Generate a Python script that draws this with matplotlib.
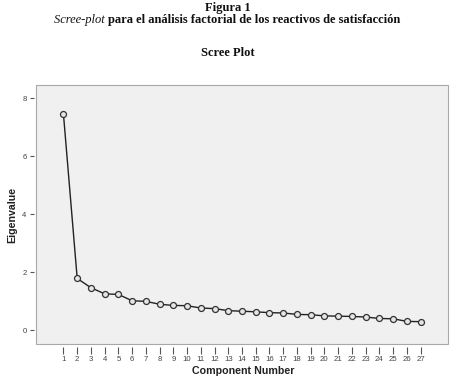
import matplotlib
matplotlib.use("Agg")
import matplotlib.pyplot as plt
from matplotlib.patches import Rectangle

components = list(range(1, 28))
eigenvalues = [7.44, 1.78, 1.46, 1.25, 1.23, 1.01, 0.99, 0.89, 0.85, 0.84,
               0.76, 0.74, 0.67, 0.65, 0.63, 0.60, 0.59, 0.54, 0.53, 0.49,
               0.48, 0.47, 0.45, 0.40, 0.39, 0.30, 0.29]
y_ticks = [0, 2, 4, 6, 8]

W, H = 457, 382
fig = plt.figure(figsize=(W / 100, H / 100), dpi=100)
fig.patch.set_facecolor("white")

ax = fig.add_axes([36 / W, 1 - 344 / H, 412 / W, (344 - 85) / H])
ax.set_facecolor("#f0f0f0")
ax.plot(components, eigenvalues, color="#222222", lw=1.0, marker="o",
        markersize=4.3, markerfacecolor="#e6e6e6", markeredgecolor="#333333",
        markeredgewidth=0.9, zorder=3)
ax.set_xlim(-1.0, 29.0)
ax.set_ylim(-0.48, 8.45)
ax.set_xticks(components)
ax.set_xticklabels([str(c) for c in components])
ax.set_yticks(y_ticks)
ax.set_yticklabels([str(v) for v in y_ticks])

for s in ["top", "right"]:
    ax.spines[s].set_visible(False)
for s in ["left", "bottom"]:
    ax.spines[s].set_position(("outward", 1.8))
    ax.spines[s].set_visible(False)
ax.add_patch(Rectangle((0, 0), 1, 1, transform=ax.transAxes, fill=False,
                       edgecolor="#a8a8a8", lw=0.8, clip_on=False, zorder=5))

ax.tick_params(axis="x", direction="out", length=5.2, width=0.8, color="#555555",
               labelsize=5.6, labelcolor="#444444", pad=1.5)
ax.tick_params(axis="y", direction="out", length=3.0, width=0.8, color="#555555",
               labelsize=5.6, labelcolor="#444444", pad=2)
for lab in ax.get_xticklabels() + ax.get_yticklabels():
    lab.set_family("Liberation Sans")

fig.text(243 / W, 1 - 371 / H, "Component Number", ha="center", va="center",
         family="Liberation Sans", weight="bold", size=7.7, color="#222222")
fig.text(12 / W, 1 - 215 / H, "Eigenvalue", ha="center", va="center",
         rotation=90, family="Liberation Sans", weight="bold", size=7.7,
         color="#222222")

fig.text(228 / W, 1 - 8 / H, "Figura 1", ha="center", va="center",
         family="Liberation Serif", weight="bold", size=9.0, color="#111111")
fig.text(228 / W, 1 - 53 / H, "Scree Plot", ha="center", va="center",
         family="Liberation Serif", weight="bold", size=9.0, color="#111111")

# subtitle with italic + bold parts
part1 = "Scree-plot "
part2 = "para el análisis factorial de los reactivos de satisfacción"
t1 = fig.text(0, 1 - 20 / H, part1, ha="left", va="center",
              family="Liberation Serif", style="italic", size=9.0, color="#111111")
t2 = fig.text(0, 1 - 20 / H, part2, ha="left", va="center",
              family="Liberation Serif", weight="bold", size=9.0, color="#111111")
fig.canvas.draw()
r = fig.canvas.get_renderer()
w1 = t1.get_window_extent(r).width
w2 = t2.get_window_extent(r).width
start = 227 - (w1 + w2) / 2
t1.set_x(start / W)
t2.set_x((start + w1) / W)

fig.savefig("out.png", dpi=100)
